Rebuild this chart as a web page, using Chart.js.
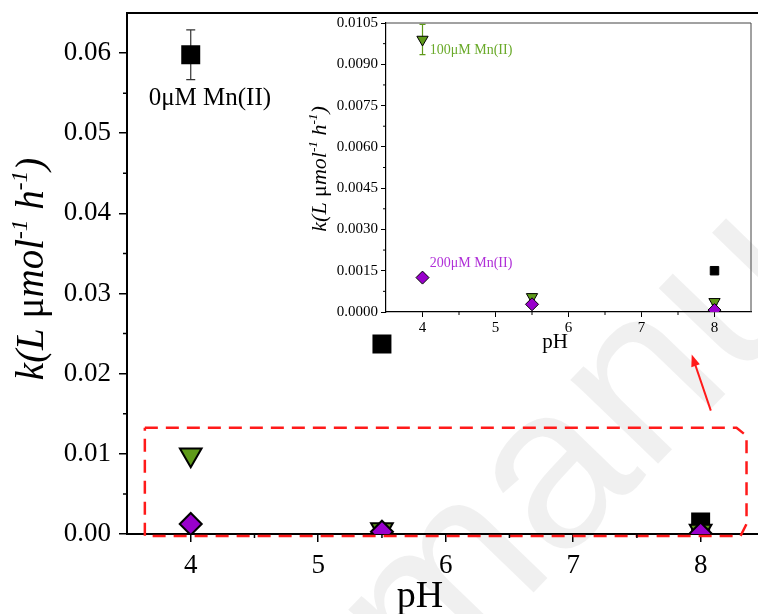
<!DOCTYPE html>
<html>
<head>
<meta charset="utf-8">
<script src="https://cdn.jsdelivr.net/npm/chart.js@4/dist/chart.umd.min.js"></script>
<style>
  html, body { margin: 0; padding: 0; background: #fff; }
  #wrap { position: relative; width: 758px; height: 614px; }
  #mainChart { position: absolute; left: 0; top: 0; }
  #insetChart { position: absolute; left: 300px; top: 0; }
</style>
</head>
<body>
<div id="wrap">
  <canvas id="mainChart" width="758" height="614"></canvas>
  <canvas id="insetChart" width="458" height="360"></canvas>
</div>
<script>
// data
var pH = [4, 5.5, 8];
var k0 = [0.0598, 0.0237, 0.0015];
var k0Err = [0.0031, 0.0006, 0];
var k100 = [0.0099, 0.00055, 0.00037];
var k100Err = [0.00055, 0.0001, 0.0001];
var k200 = [0.00125, 0.00028, 0.00007];
var k200Err = [0, 0, 0];

var xTicks = [4, 5, 6, 7, 8];
var xMinor = [4.5, 5.5, 6.5, 7.5];
var mainYTicks = [0, 0.01, 0.02, 0.03, 0.04, 0.05, 0.06];
var mainYMinor = [0.005, 0.015, 0.025, 0.035, 0.045, 0.055];
var insetYTicks = [0, 0.0015, 0.003, 0.0045, 0.006, 0.0075, 0.009, 0.0105];
var insetYMinor = [0.00075, 0.00225, 0.00375, 0.00525, 0.00675, 0.00825, 0.00975];

var GREEN = '#5f9a1a';
var PURPLE = '#9900cc';
var SERIF = '"Liberation Serif", "Times New Roman", serif';

Chart.defaults.font.family = SERIF;
Chart.defaults.color = '#000';

function pts(ys) {
  var out = [];
  for (var i in pH) out.push({x: pH[i], y: ys[i]});
  return out;
}

function makeDatasets(big) {
  var bw = big ? 2 : 1;
  return [
    {
      label: '0μM Mn(II)', data: pts(k0), err: k0Err, errColor: '#333',
      pointStyle: 'rect', pointRadius: big ? 12 : 6, backgroundColor: '#000',
      borderColor: '#000', borderWidth: bw, showLine: false, clip: 0, order: 3
    },
    {
      label: '100μM Mn(II)', data: pts(k100), err: k100Err, errColor: GREEN,
      pointStyle: 'triangle', rotation: 180, pointRadius: big ? 12.5 : 6.5,
      backgroundColor: GREEN, borderColor: '#000', borderWidth: bw,
      showLine: false, clip: 0, order: 2
    },
    {
      label: '200μM Mn(II)', data: pts(k200), err: k200Err, errColor: PURPLE,
      pointStyle: 'rectRot', pointRadius: big ? 11 : 6.5,
      backgroundColor: PURPLE, borderColor: '#000', borderWidth: bw,
      showLine: false, clip: 0, order: 1
    }
  ];
}

function noPad(s) {
  s.paddingTop = 0; s.paddingBottom = 0; s.paddingLeft = 0; s.paddingRight = 0;
}

// error bars, drawn behind the markers
var errorBars = {
  id: 'errorBars',
  beforeDatasetsDraw: function(chart) {
    var ctx = chart.ctx, a = chart.chartArea, ys = chart.scales.y;
    var cap = chart.options.plugins.errorBars.cap;
    ctx.save();
    ctx.beginPath();
    ctx.rect(a.left, a.top, a.right - a.left, a.bottom - a.top);
    ctx.clip();
    chart.data.datasets.forEach(function(ds, di) {
      var meta = chart.getDatasetMeta(di);
      meta.data.forEach(function(el, i) {
        var e = ds.err[i];
        if (!e) return;
        var v = ds.data[i].y;
        var y1 = ys.getPixelForValue(v + e), y2 = ys.getPixelForValue(v - e);
        ctx.strokeStyle = ds.errColor;
        ctx.lineWidth = 1.2;
        ctx.beginPath();
        ctx.moveTo(el.x, y1); ctx.lineTo(el.x, y2);
        ctx.moveTo(el.x - cap, y1); ctx.lineTo(el.x + cap, y1);
        ctx.moveTo(el.x - cap, y2); ctx.lineTo(el.x + cap, y2);
        ctx.stroke();
      });
    });
    ctx.restore();
  }
};

// minor ticks, frame lines, axis title with superscripts, text labels
var decor = {
  id: 'decor',
  afterDraw: function(chart) {
    var o = chart.options.plugins.decor;
    var ctx = chart.ctx, a = chart.chartArea;
    var xs = chart.scales.x, ys = chart.scales.y;
    ctx.save();
    ctx.strokeStyle = '#000';
    ctx.lineWidth = o.tickWidth;
    ctx.beginPath();
    o.xMinor.forEach(function(v) {
      var x = xs.getPixelForValue(v);
      ctx.moveTo(x, a.bottom); ctx.lineTo(x, a.bottom + o.minorLen);
    });
    o.yMinor.forEach(function(v) {
      var y = ys.getPixelForValue(v);
      ctx.moveTo(a.left, y); ctx.lineTo(a.left - o.minorLen, y);
    });
    ctx.stroke();

    // frame
    ctx.strokeStyle = o.frameColor;
    ctx.lineWidth = o.frameWidth;
    ctx.beginPath();
    ctx.moveTo(a.left, a.top); ctx.lineTo(o.frameRight ? a.right : chart.width, a.top);
    if (o.frameRight) ctx.lineTo(a.right, a.bottom);
    ctx.stroke();

    // y title: k(L μmol-1 h-1)
    var fs = o.titleSize, sup = fs * 0.6;
    var parts = [
      ['italic', fs, 'k(L ', 0], ['normal', fs, 'μ', 0], ['italic', fs, 'mol', 0],
      ['italic', sup, '-1', 1], ['italic', fs, ' h', 0], ['italic', sup, '-1', 1],
      ['italic', fs, ')', 0]
    ];
    var total = 0;
    parts.forEach(function(p) {
      ctx.font = p[0] + ' ' + p[1] + 'px ' + SERIF;
      p.push(ctx.measureText(p[2]).width);
      total += p[4];
    });
    ctx.translate(o.titleX, o.titleY);
    ctx.rotate(-Math.PI / 2);
    ctx.fillStyle = '#000';
    ctx.textBaseline = 'alphabetic';
    ctx.textAlign = 'left';
    var cx = -total / 2;
    parts.forEach(function(p) {
      ctx.font = p[0] + ' ' + p[1] + 'px ' + SERIF;
      ctx.fillText(p[2], cx, p[3] ? -fs * 0.42 : 0);
      cx += p[4];
    });
    ctx.setTransform(1, 0, 0, 1, 0, 0);

    // x title
    ctx.font = o.xTitleSize + 'px ' + SERIF;
    ctx.textAlign = 'center';
    ctx.fillText('pH', o.xTitleX, o.xTitleY);

    // series labels
    o.labels.forEach(function(l) {
      ctx.font = l.size + 'px ' + SERIF;
      ctx.fillStyle = l.color;
      ctx.textAlign = l.align;
      ctx.textBaseline = 'middle';
      ctx.fillText(l.text, xs.getPixelForValue(l.x), ys.getPixelForValue(l.y));
    });
    ctx.restore();
  }
};

// faint watermark and the red zoom box with arrow (main chart only)
var overlay = {
  id: 'overlay',
  beforeDraw: function(chart) {
    var ctx = chart.ctx;
    ctx.save();
    ctx.translate(425, 705);
    ctx.rotate(-46 * Math.PI / 180);
    ctx.fillStyle = 'rgba(0,0,0,0.06)';
    ctx.font = '230px "Liberation Sans", Arial, sans-serif';
    ctx.fillText('manuscript', 0, 0);
    ctx.restore();
  },
  afterDraw: function(chart) {
    var ctx = chart.ctx, xs = chart.scales.x, ys = chart.scales.y;
    var L = xs.getPixelForValue(3.64), R = xs.getPixelForValue(8.36);
    var T = ys.getPixelForValue(0.01325), B = ys.getPixelForValue(-0.00025);
    ctx.save();
    ctx.strokeStyle = '#ff1a1a';
    ctx.lineWidth = 2.5;
    ctx.setLineDash([13, 8]);
    ctx.beginPath();
    ctx.moveTo(L, T);
    ctx.lineTo(R - 10, T);
    ctx.lineTo(R, T + 8);
    ctx.lineTo(R, B - 12);
    ctx.lineTo(R - 6, B);
    ctx.lineTo(L, B);
    ctx.lineTo(L, T);
    ctx.stroke();
    ctx.setLineDash([]);
    // arrow
    var x1 = xs.getPixelForValue(8.08), y1 = ys.getPixelForValue(0.0154);
    var x2 = xs.getPixelForValue(7.93), y2 = ys.getPixelForValue(0.0224);
    var ang = Math.atan2(y2 - y1, x2 - x1);
    ctx.lineWidth = 2;
    ctx.beginPath();
    ctx.moveTo(x1, y1);
    ctx.lineTo(x2 - 8 * Math.cos(ang), y2 - 8 * Math.sin(ang));
    ctx.stroke();
    ctx.fillStyle = '#ff1a1a';
    ctx.beginPath();
    ctx.moveTo(x2, y2);
    ctx.lineTo(x2 - 12 * Math.cos(ang) + 4.5 * Math.sin(ang), y2 - 12 * Math.sin(ang) - 4.5 * Math.cos(ang));
    ctx.lineTo(x2 - 12 * Math.cos(ang) - 4.5 * Math.sin(ang), y2 - 12 * Math.sin(ang) + 4.5 * Math.cos(ang));
    ctx.closePath();
    ctx.fill();
    ctx.restore();
  }
};

var mainChart = new Chart(document.getElementById('mainChart'), {
  type: 'scatter',
  data: { datasets: makeDatasets(true) },
  plugins: [overlay, errorBars, decor],
  options: {
    responsive: false,
    animation: false,
    events: [],
    layout: { autoPadding: false, padding: { top: 13, right: 0, left: 0, bottom: 0 } },
    plugins: {
      legend: { display: false },
      tooltip: { enabled: false },
      errorBars: { cap: 4.5 },
      decor: {
        xMinor: xMinor, yMinor: mainYMinor, minorLen: 4, tickWidth: 1.5,
        frameColor: '#000', frameWidth: 2, frameRight: false,
        titleSize: 39, titleX: 43, titleY: 269,
        xTitleSize: 38, xTitleX: 420, xTitleY: 607,
        labels: [{ text: '0μM Mn(II)', x: 4.15, y: 0.0543, size: 25, color: '#000', align: 'center' }]
      }
    },
    scales: {
      x: {
        type: 'linear', min: 3.5, max: 8.45,
        afterBuildTicks: function(s) { s.ticks = xTicks.map(function(v) { return {value: v}; }); },
        afterFit: function(s) { s.height = 80; noPad(s); },
        border: { display: true, color: '#000', width: 2 },
        grid: { display: true, drawOnChartArea: false, drawTicks: true, tickLength: 8, color: '#000', lineWidth: 1.5 },
        ticks: { font: { size: 27 }, color: '#000', padding: 8, maxRotation: 0,
          callback: function(v) { return v; } }
      },
      y: {
        type: 'linear', min: 0, max: 0.065,
        afterBuildTicks: function(s) { s.ticks = mainYTicks.map(function(v) { return {value: v}; }); },
        afterFit: function(s) { s.width = 127; noPad(s); },
        border: { display: true, color: '#000', width: 2 },
        grid: { display: true, drawOnChartArea: false, drawTicks: true, tickLength: 8, color: '#000', lineWidth: 1.5 },
        ticks: { font: { size: 27 }, color: '#000', padding: 8,
          callback: function(v) { return v.toFixed(2); } }
      }
    }
  }
});

var insetChart = new Chart(document.getElementById('insetChart'), {
  type: 'scatter',
  data: { datasets: makeDatasets(false) },
  plugins: [errorBars, decor],
  options: {
    responsive: false,
    animation: false,
    events: [],
    layout: { autoPadding: false, padding: { top: 23, right: 7, left: 0, bottom: 0 } },
    plugins: {
      legend: { display: false },
      tooltip: { enabled: false },
      errorBars: { cap: 3 },
      decor: {
        xMinor: xMinor, yMinor: insetYMinor, minorLen: 3, tickWidth: 1,
        frameColor: '#444', frameWidth: 1, frameRight: true,
        titleSize: 22, titleX: 26, titleY: 169,
        xTitleSize: 21, xTitleX: 255, xTitleY: 348,
        labels: [
          { text: '100μM Mn(II)', x: 4.1, y: 0.00952, size: 14, color: '#6aaa2a', align: 'left' },
          { text: '200μM Mn(II)', x: 4.1, y: 0.00178, size: 14, color: '#b030d8', align: 'left' }
        ]
      }
    },
    scales: {
      x: {
        type: 'linear', min: 3.5, max: 8.5,
        afterBuildTicks: function(s) { s.ticks = xTicks.map(function(v) { return {value: v}; }); },
        afterFit: function(s) { s.height = 48; noPad(s); },
        border: { display: true, color: '#000', width: 1.2 },
        grid: { display: true, drawOnChartArea: false, drawTicks: true, tickLength: 5, color: '#000', lineWidth: 1 },
        ticks: { font: { size: 15 }, color: '#000', padding: 2, maxRotation: 0,
          callback: function(v) { return v; } }
      },
      y: {
        type: 'linear', min: 0, max: 0.0105,
        afterBuildTicks: function(s) { s.ticks = insetYTicks.map(function(v) { return {value: v}; }); },
        afterFit: function(s) { s.width = 86; noPad(s); },
        border: { display: true, color: '#000', width: 1.2 },
        grid: { display: true, drawOnChartArea: false, drawTicks: true, tickLength: 5, color: '#000', lineWidth: 1 },
        ticks: { font: { size: 15 }, color: '#000', padding: 3,
          callback: function(v) { return v.toFixed(4); } }
      }
    }
  }
});
</script>
</body>
</html>
